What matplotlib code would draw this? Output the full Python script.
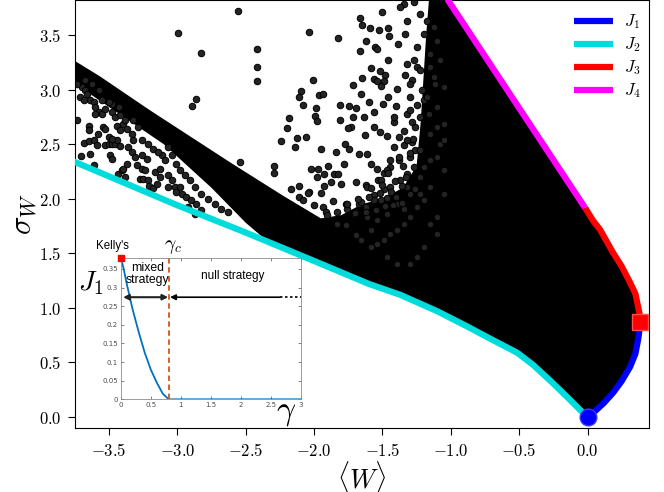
# importing numpy and matplotlib
import numpy as np
import matplotlib.pyplot as plt
from matplotlib.ticker import FuncFormatter

plt.rcParams['mathtext.fontset'] = 'cm'

# boundary curves of the (<W>, sigma_W) region
J1_x = np.array([0.0, 0.06, 0.12, 0.187, 0.25, 0.312, 0.35, 0.37, 0.38, 0.383])
J1_y = np.array([0.0, 0.06, 0.13, 0.223, 0.33, 0.462, 0.58, 0.709, 0.80, 0.874])

J2_x = np.array([-3.85, -3.0, -2.5, -2.25, -2.0, -1.6, -1.37, -1.1, -0.88, -0.7, -0.515, -0.4, -0.274, -0.15,
                 -0.05, 0.0])
J2_y = np.array([2.39, 1.94, 1.69, 1.56, 1.43, 1.22, 1.12, 0.97, 0.83, 0.71, 0.59, 0.48, 0.335, 0.185, 0.06, 0.0])

J3_x = np.array([0.383, 0.38, 0.37, 0.35, 0.312, 0.25, 0.187, 0.092, 0.04, -0.018])
J3_y = np.array([0.874, 0.95, 1.01, 1.13, 1.23, 1.38, 1.505, 1.716, 1.80, 1.917])

J4_x = np.array([-0.018, -0.5, -1.1])
J4_y = np.array([1.917, 2.83, 3.97])

# edge of the dense part of the random portfolio cloud (from top of J4, round the left band, down to J2)
edge_x = np.array([-1.15, -1.18, -1.2, -1.22, -1.25, -1.35, -1.5, -1.65, -1.8, -1.95, -2.23, -2.61, -3.2, -3.565,
                   -3.85, -3.85, -3.1, -2.75, -2.5, -2.35])
edge_y = np.array([3.97, 3.5, 3.1, 2.7, 2.3, 2.1, 2.0, 1.95, 1.85, 1.82, 2.03, 2.33, 2.81, 3.12,
                   3.34, 3.14, 2.5, 2.1, 1.78, 1.62])

# sparse random portfolios outside the dense part
pts_x = np.array([
    -2.557, -2.993, -2.824, -2.414, -2.414, -2.414, -2.862, -2.889, -2.545, -2.29, -2.29, -2.04, -1.827, -2.009,
    -2.098, -2.108, -2.079, -1.963, -1.938, -1.989, -1.994, -1.975, -2.181, -2.2, -2.239, -2.125, -2.062, -2.14,
    -1.946, -1.812, -1.812, -1.715, -1.652, -1.667, -1.662, -1.647, -1.502, -1.592, -1.618, -1.523, -1.456, -1.453,
    -1.385, -1.555, -1.538, -1.461, -1.584, -1.519, -1.483, -1.562, -1.538, -1.492, -1.397, -1.514, -1.659, -1.744,
    -1.696, -1.596, -1.499, -1.461, -1.4, -1.715, -1.635, -1.562, -1.732, -1.752, -1.628, -1.562, -1.519, -1.465,
    -1.773, -1.744, -1.841, -1.672, -1.611, -1.581, -1.781, -1.897, -2.023, -1.97, -1.926, -1.853, -1.824, -1.878,
    -1.805, -1.696, -1.623, -1.533, -1.951, -2.169, -2.108, -2.036, -1.49, -1.441, -1.417, -1.441, -1.417, -1.417,
    -2.108, -2.084, -2.047, -1.999, -1.938, -1.914, -1.902, -1.829, -1.769, -1.756, -1.708, -1.672, -1.829, -1.769,
    -1.696, -1.659, -1.623, -1.611, -1.587, -1.538, -1.562, -1.514, -1.49, -1.392, -1.344, -1.465, -1.295, -1.259,
    -1.368, -1.32, -1.381, -1.295, -1.259, -1.283, -1.344, -1.381, -1.283, -1.259, -1.32, -1.295, -1.247, -1.332,
    -1.283, -1.247, -1.21, -1.199, -1.162, -1.15, -1.199, -1.15, -1.223, -1.15, -1.199, -1.247, -1.295, -1.344,
    -1.392, -1.441, -1.49, -1.538, -1.587, -1.465, -1.392, -1.15, -1.101, -1.199, -1.247, -1.295, -1.101, -1.053,
    -1.053, -1.077, -1.101, -1.101, -1.113, -1.538, -1.465, -1.514, -1.441, -1.611,
    -1.344, -1.271, -1.223, -1.174, -1.126, -1.199, -1.101, -1.247, -1.15, -1.077, -1.32, -1.223, -1.126, -1.295,
    -1.053, -1.174, -1.295, -1.223, -1.053, -1.15, -1.32, -1.223, -1.101, -1.271, -1.32, -1.223, -1.368, -1.32,
    -1.332, -1.271, -1.053,
    -1.36, -1.42, -1.48, -1.55, -1.62, -1.70, -1.40, -1.47, -1.56, -1.66, -1.36, -1.44, -1.52, -1.60, -1.68,
    -1.76, -1.33, -1.41, -1.50, -1.58, -1.35, -1.46, -1.30, -1.38, -1.28, -1.34, -1.86, -1.93, -1.98,
    -3.734, -3.702, -3.641, -3.608, -3.685, -3.649, -3.612, -3.588, -3.649, -3.644, -3.583, -3.544, -3.528, -3.532,
    -3.503, -3.479, -3.455, -3.443, -3.418, -3.491, -3.479, -3.435, -3.406, -3.394, -3.382, -3.368, -3.503, -3.479,
    -3.443, -3.418, -3.394, -3.368, -3.333, -3.321, -3.358, -3.333, -3.31, -3.297, -3.261, -3.273, -3.237, -3.248,
    -3.217, -3.207, -3.175, -3.151, -3.127, -3.164, -3.127, -3.115, -3.091, -3.066, -3.042, -3.066, -3.018, -3.006,
    -2.982, -2.969, -2.933, -2.897, -2.86, -3.321, -3.285, -3.261, -3.212, -3.175, -3.139, -3.261, -3.224, -3.066,
    -3.042, -3.006, -2.982, -2.945, -2.909, -2.872, -2.824, -2.775, -2.727, -2.678, -2.63, -2.921, -2.872, -2.824,
    -3.697, -3.673, -3.661, -3.637, -3.612, -3.71, -3.685, -3.6, -3.576, -3.552, -3.6, -3.528, -3.479, -3.455,
    -3.418, -3.382, -3.479, -3.43, -3.552, -3.503, -3.673, -3.624, -3.576, -3.734])
pts_y = np.array([
    3.717, 3.52, 3.337, 3.367, 3.202, 3.074, 2.909, 2.848, 2.333, 2.30, 2.24, 3.525, 3.47, 3.086,
    2.99, 2.93, 2.855, 2.952, 2.96, 2.833, 2.754, 2.711, 2.742, 2.644, 2.525, 2.559, 2.565, 2.47,
    2.458, 2.861, 2.717, 3.044, 3.108, 3.349, 3.653, 3.593, 3.708, 3.565, 3.449, 3.541, 3.559, 3.489,
    3.415, 3.394, 3.367, 3.275, 3.193, 3.166, 3.129, 3.099, 3.074, 3.074, 3.007, 3.031, 2.961, 2.852,
    2.833, 2.888, 2.87, 2.93, 2.845, 2.751, 2.747, 2.793, 2.656, 2.644, 2.58, 2.656, 2.61, 2.574,
    2.498, 2.452, 2.427, 2.413, 2.413, 2.321, 2.315, 2.296, 2.275, 2.275, 2.229, 2.229, 2.229, 2.153,
    2.138, 2.153, 2.123, 2.168, 2.052, 2.092, 2.116, 2.061, 2.238, 2.29, 2.473, 2.351, 2.702, 2.747,
    2.016, 1.985, 2.056, 1.94, 1.924, 1.878, 1.848, 1.878, 1.955, 1.909, 1.864, 1.955, 1.772, 1.757,
    1.665, 1.619, 1.924, 1.833, 1.711, 1.802, 2.031, 1.985, 2.092, 1.955, 1.909, 1.864, 2.047, 2.092,
    2.168, 2.229, 2.351, 2.382, 2.443, 2.519, 2.489, 2.565, 2.702, 2.656, 2.779, 2.93, 2.855, 3.129,
    3.083, 3.205, 2.992, 2.9, 2.779, 3.205, 2.29, 2.351, 2.199, 2.107, 1.985, 1.924, 1.833, 1.772,
    1.711, 1.681, 1.619, 1.589, 1.558, 1.467, 1.406, 1.772, 1.833, 1.558, 1.467, 1.406, 1.681, 2.047,
    2.26, 2.504, 2.656, 2.839, 3.053, 2.275, 2.26, 2.168, 2.107, 2.107,
    3.779, 3.8, 3.693, 3.632, 3.571, 3.51, 3.449, 3.388, 3.327, 3.266, 3.236, 3.175, 3.113, 3.053,
    3.022, 2.93, 2.809, 2.747, 2.687, 2.596, 2.534, 2.443, 2.382, 2.29, 2.107, 2.047, 3.754, 3.632,
    3.51, 3.266, 2.534,
    1.96, 1.94, 1.93, 1.90, 1.88, 1.87, 2.02, 2.01, 1.99, 1.97, 2.12, 2.06, 2.05, 2.02, 2.00,
    1.95, 2.20, 2.16, 2.13, 2.10, 2.30, 2.24, 2.42, 2.38, 2.55, 2.62, 1.98, 2.12, 2.20,
    2.724, 2.391, 2.413, 2.306, 2.513, 2.525, 2.534, 2.489, 2.662, 2.626, 2.596, 2.656, 2.641, 2.489,
    2.498, 2.504, 2.504, 2.534, 2.479, 2.397, 2.367, 2.223, 2.26, 2.275, 2.199, 2.321, 2.565, 2.55,
    2.662, 2.626, 2.687, 2.641, 2.596, 2.534, 2.473, 2.427, 2.382, 2.306, 2.275, 2.184, 2.26, 2.184,
    2.175, 2.113, 2.101, 2.138, 2.199, 2.244, 2.275, 2.397, 2.351, 2.214, 2.168, 2.107, 2.107, 2.061,
    2.107, 2.047, 2.016, 1.985, 1.955, 2.717, 2.656, 2.534, 2.504, 2.458, 2.427, 2.397, 2.367, 2.473,
    2.397, 2.321, 2.26, 2.214, 2.168, 2.107, 2.047, 2.001, 1.955, 1.909, 1.878, 1.924, 1.864, 1.894,
    3.022, 2.992, 2.961, 2.9, 2.885, 2.93, 2.9, 2.839, 2.793, 2.779, 2.779, 2.824, 2.793, 2.747,
    2.763, 2.717, 2.87, 2.839, 2.9, 2.885, 3.083, 3.053, 2.992, 3.053])

# optimal points: Kelly's (end of J1/J3) and the null strategy
kelly_W, kelly_s = 0.383, 0.874
null_W, null_s = 0.0, 0.0

# inset: J1 along the frontier vs risk aversion gamma
gamma = np.array([0.0, 0.05, 0.1, 0.15, 0.2, 0.3, 0.4, 0.5, 0.6, 0.7, 0.8, 1.5, 2.0, 3.0])
J1_gamma = np.array([0.38, 0.35, 0.31, 0.275, 0.24, 0.18, 0.125, 0.08, 0.045, 0.015, 0.0, 0.0, 0.0, 0.0])
gamma_c = 0.8

fig = plt.figure(figsize=(6.64, 4.92), dpi=100)
ax = fig.add_axes([0.113, 0.1301, 0.8645, 0.8699])

# dense cloud: outline + J2 + J1 + J3 + J4
m = J2_x >= -2.3
cloud_x = np.concatenate([edge_x, J2_x[m], J1_x, J3_x, J4_x])
cloud_y = np.concatenate([edge_y, J2_y[m], J1_y, J3_y, J4_y])
ax.fill(cloud_x, cloud_y, color='black', lw=0, zorder=1)
ax.scatter(pts_x, pts_y, s=22, facecolor='#242424', edgecolor='black', linewidths=0.7, zorder=2)

ax.plot(J1_x, J1_y, color='#0000ff', lw=4.5, solid_capstyle='butt', label='$J_1$', zorder=3)
ax.plot(J2_x, J2_y, color='#00dcdc', lw=4.5, solid_capstyle='butt', label='$J_2$', zorder=3)
ax.plot(J3_x, J3_y, color='#ff0000', lw=4.5, solid_capstyle='butt', label='$J_3$', zorder=3)
ax.plot(J4_x, J4_y, color='#ff00ff', lw=4.5, solid_capstyle='butt', label='$J_4$', zorder=3)
ax.plot(null_W, null_s, 'o', color='#0000ff', ms=12, mec='#3a3aff', mew=1, clip_on=False, zorder=4)
ax.plot(kelly_W, kelly_s, 's', color='#ff0000', ms=12, mec='#ff5050', mew=1, clip_on=False, zorder=4)

ax.set_xlim(-3.748, 0.45)
ax.set_ylim(-0.1, 3.82)
ax.set_xticks(np.arange(-3.5, 0.01, 0.5))
ax.set_yticks(np.arange(0, 3.51, 0.5))
fmt = FuncFormatter(lambda v, p: '$%.1f$' % v)
ax.xaxis.set_major_formatter(fmt)
ax.yaxis.set_major_formatter(fmt)
ax.tick_params(labelsize=12, length=5, pad=5, direction='out')
ax.set_xlabel(r'$\langle W\rangle$', fontsize=19)
ax.xaxis.set_label_coords(0.5, -0.072)
ax.set_ylabel(r'$\sigma_W$', fontsize=22, labelpad=0)
ax.legend(loc='upper right', bbox_to_anchor=(1.012, 1.006), frameon=False, fontsize=12,
          handlelength=2.3, labelspacing=0.25, handletextpad=0.7)

# inset
ins = fig.add_axes([0.1818, 0.1884, 0.2715, 0.2878])
ins.plot(gamma, J1_gamma, color='#0072BD', lw=1.3)
ins.axvline(gamma_c, color='#D95319', lw=1.3, ls=(0, (3, 2)))
ins.plot(gamma[0], J1_gamma[0], 's', color='red', ms=5, clip_on=False, zorder=5)
ins.annotate('', xy=(0.04, 0.274), xytext=(gamma_c - 0.01, 0.274),
             arrowprops=dict(arrowstyle='<|-|>', color='#222222', lw=1.5, mutation_scale=8,
                             shrinkA=0, shrinkB=0))
ins.annotate('', xy=(gamma_c + 0.02, 0.274), xytext=(2.65, 0.274),
             arrowprops=dict(arrowstyle='-|>', color='black', lw=1.2, mutation_scale=8,
                             shrinkA=0, shrinkB=0))
ins.plot([2.65, 3.0], [0.274, 0.274], color='black', lw=1.2, ls=(0, (1.5, 1.5)))
ins.text(-0.14, 0.411, "Kelly's", fontsize=8.3, family='Liberation Sans', ha='center', va='center',
         clip_on=False)
ins.text(0.45, 0.337, 'mixed\nstrategy', fontsize=8.8, family='Liberation Sans', ha='center', va='center',
         linespacing=1.05)
ins.text(1.86, 0.330, 'null strategy', fontsize=8.5, family='Liberation Sans', ha='center', va='center')
ins.text(gamma_c + 0.075, 0.411, r'$\gamma_c$', fontsize=14, ha='center', va='center')
ins.text(-0.5, 0.312, r'$J_1$', fontsize=20, ha='center', va='center')
ins.text(2.76, -0.033, r'$\gamma$', fontsize=24, ha='center', va='center')
ins.set_xlim(0, 3)
ins.set_ylim(0, 0.38)
ins.set_xticks(np.arange(0, 3.01, 0.5))
ins.set_xticklabels(['0', '0.5', '1', '1.5', '2', '2.5', '3'])
ins.set_yticks(np.arange(0, 0.351, 0.05))
ins.set_yticklabels(['0', '0.05', '0.1', '0.15', '0.2', '0.25', '0.3', '0.35'])
ins.tick_params(labelsize=5, length=2, pad=2, direction='in', top=True, right=True, colors='#4d4d4d',
                labelcolor='#4d4d4d', width=0.5)
for sp in ins.spines.values():
    sp.set_color('#8c8c8c')
    sp.set_linewidth(0.6)

plt.savefig('out.png', dpi=100)
